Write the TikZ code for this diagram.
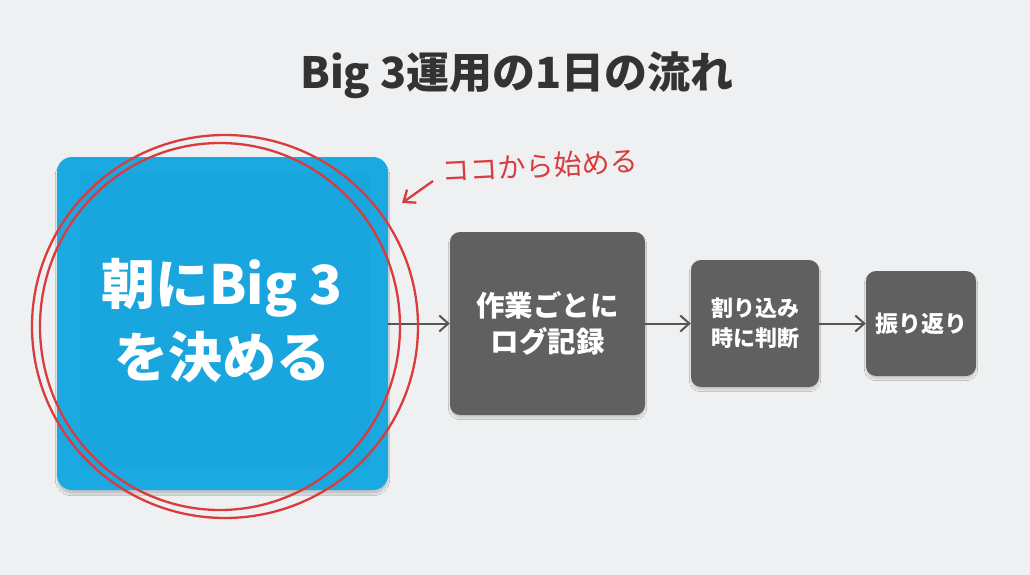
\documentclass[tikz,border=0pt]{standalone}
\usepackage{fontspec}
\newfontfamily\jp{Noto Sans CJK JP}
\usetikzlibrary{arrows.meta,shadows.blur}
\definecolor{bg}{HTML}{EEF0F1}
\definecolor{bluefill}{HTML}{1BA9E1}
\definecolor{bluedark}{HTML}{189FD6}
\definecolor{boxgray}{HTML}{606060}
\definecolor{titlegray}{HTML}{333333}
\definecolor{arrowgray}{HTML}{555555}
\definecolor{penred}{HTML}{D93C3E}
\tikzset{
  bluebox/.style={fill=bluefill, rounded corners=15pt, inner sep=0pt,
    blur shadow={shadow xshift=0pt, shadow yshift=-4pt, shadow opacity=18, shadow blur steps=6}},
  graybox/.style={fill=boxgray, rounded corners=10pt, inner sep=0pt,
    blur shadow={shadow xshift=0pt, shadow yshift=-3pt, shadow opacity=15, shadow blur steps=5},
    text=white, align=center},
  flow/.style={draw=arrowgray, line width=2pt, -{Straight Barb[length=9pt,width=16pt,line width=2pt]}},
  redpen/.style={draw=penred, line width=2.3pt},
}
\begin{document}
\begin{tikzpicture}[x=1pt,y=-1pt]
\fill[bg] (0,0) rectangle (1030,575);
\useasboundingbox (0,0) rectangle (1030,575);

\node[font=\jp\bfseries\fontsize{43}{46}\selectfont, text=titlegray] (title) at (517,75) {Big 3運用の1日の流れ};

% blue card
\node[bluebox, minimum width=331pt, minimum height=333pt] (big) at (222.5,323.5) {};
\fill[bluedark, rounded corners=8pt, opacity=0.35] (80,173) rectangle (370,467);
\node[text=white, align=center, font=\jp\bfseries\fontsize{54}{73}\selectfont] (bigtext) at (222,321) {朝にBig 3\\を決める};

% gray boxes
\node[graybox, minimum width=195pt, minimum height=183pt, font=\jp\bfseries\fontsize{28.5}{36}\selectfont] (log) at (547.5,323.5) {作業ごとに\\ログ記録};
\node[graybox, minimum width=128pt, minimum height=127pt, font=\jp\bfseries\fontsize{22}{30}\selectfont] (judge) at (755,323.5) {割り込み\\時に判断};
\node[graybox, minimum width=110pt, minimum height=105pt, font=\jp\bfseries\fontsize{23}{28}\selectfont] (review) at (921,323.5) {振り返り};

% flow arrows
\draw[flow] (big.east) -- (log.west);
\draw[flow] (log.east) -- (judge.west);
\draw[flow] (judge.east) -- (review.west);

% red circles
\draw[redpen] (225,326.5) ellipse [x radius=193, y radius=191.5];
\draw[redpen] (220,326.5) ellipse [x radius=180, y radius=183.5];

% annotation
\node[text=penred, font=\jp\fontsize{28}{30}\selectfont, rotate=3] (note) at (540,166) {ココから始める};
\coordinate (notestart) at (433,181);
\coordinate (noteend) at (402,203);
\draw[redpen, -{Straight Barb[length=10pt,width=16pt,line width=2.3pt]}] (notestart) -- (noteend);
\end{tikzpicture}
\end{document}
